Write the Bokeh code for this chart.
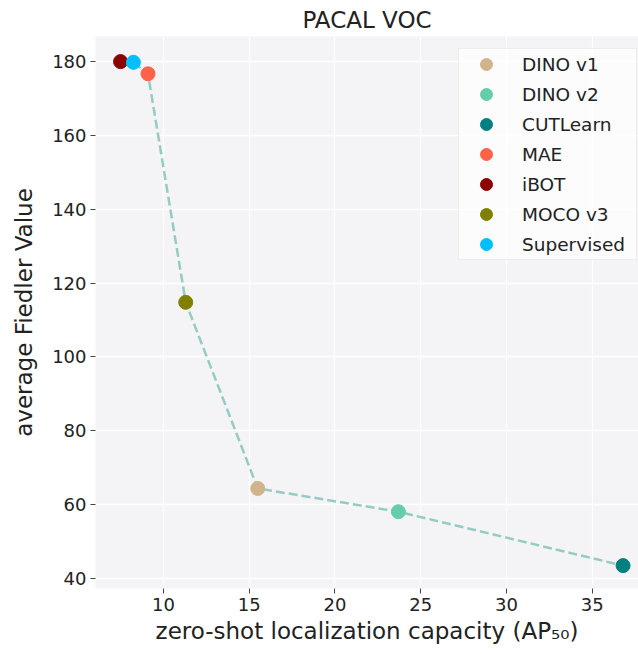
from bokeh.plotting import figure
from bokeh.models import FixedTicker, Range1d, Legend, LegendItem
from bokeh.embed import file_html
from bokeh.resources import INLINE

# ---- data ----
methods = ["DINO v1", "DINO v2", "CUTLearn", "MAE", "iBOT", "MOCO v3", "Supervised"]
ap50 = [15.5, 23.7, 36.8, 9.1, 7.5, 11.3, 8.25]
fiedler = [64.4, 58.1, 43.5, 176.7, 180.0, 114.8, 179.8]
x_ticks = [10, 15, 20, 25, 30, 35]
y_ticks = [40, 60, 80, 100, 120, 140, 160, 180]

# ---- styles ----
palette = ["#d2b48c", "#66cdaa", "#008080", "#ff6347", "#8b0000", "#808000", "#00bfff"]
FONT = "DejaVu Sans"
TXT = "#222222"

p = figure(width=638, height=654, output_backend="svg", toolbar_location=None,
           x_range=Range1d(6.04, 37.7), y_range=Range1d(37.3, 186.8),
           min_border_left=95, min_border_right=0, min_border_bottom=66, min_border_top=0)

p.title.text = "PACAL VOC"
p.title.align = "center"
p.title.offset = 8
p.title.text_font = FONT
p.title.text_font_size = "23px"
p.title.text_font_style = "normal"
p.title.text_color = TXT
p.title.standoff = 8

p.background_fill_color = "#f4f4f6"
p.border_fill_color = "white"
p.outline_line_color = None

p.xgrid.grid_line_color = "white"
p.ygrid.grid_line_color = "white"
p.xgrid.grid_line_width = 1.3
p.ygrid.grid_line_width = 1.3

p.xaxis.ticker = FixedTicker(ticks=x_ticks)
p.yaxis.ticker = FixedTicker(ticks=y_ticks)
for ax in (p.xaxis, p.yaxis):
    ax.axis_line_color = None
    ax.major_tick_in = 0
    ax.major_tick_out = 5
    ax.minor_tick_line_color = None
    ax.major_tick_line_color = "#444444"
    ax.major_label_text_font = FONT
    ax.major_label_text_font_size = "18px"
    ax.major_label_text_color = TXT
    ax.major_label_standoff = 4
    ax.axis_label_text_font = FONT
    ax.axis_label_text_font_size = "23px"
    ax.axis_label_text_font_style = "normal"
    ax.axis_label_text_color = TXT
p.xaxis.axis_label = "zero-shot localization capacity (AP\u2085\u2080)"
p.yaxis.axis_label = "average Fiedler Value"
p.xaxis.axis_label_standoff = 4
p.yaxis.axis_label_standoff = 12

# dashed trend line through the points ordered by AP50
order = sorted(range(len(ap50)), key=lambda i: ap50[i])
p.line([ap50[i] for i in order], [fiedler[i] for i in order],
       line_color="#96cbc4", line_width=2.5, line_dash="9 4")

items = []
for m, xv, yv, c in zip(methods, ap50, fiedler, palette):
    r = p.scatter([xv], [yv], size=14, marker="circle", fill_color=c, line_color=c)
    items.append(LegendItem(label=m, renderers=[r]))

legend = Legend(items=items, location=(363, 328))
legend.label_text_font = FONT
legend.label_text_font_size = "18.5px"
legend.label_text_color = TXT
legend.label_height = 22
legend.label_width = 114
legend.glyph_height = 30
legend.glyph_width = 54
legend.label_standoff = 9
legend.spacing = 0
legend.padding = 0
legend.margin = 0
legend.border_line_color = "#dddddd"
legend.background_fill_color = "white"
legend.background_fill_alpha = 0.75
p.add_layout(legend, "center")

open("out.html", "w").write(file_html(p, INLINE))
